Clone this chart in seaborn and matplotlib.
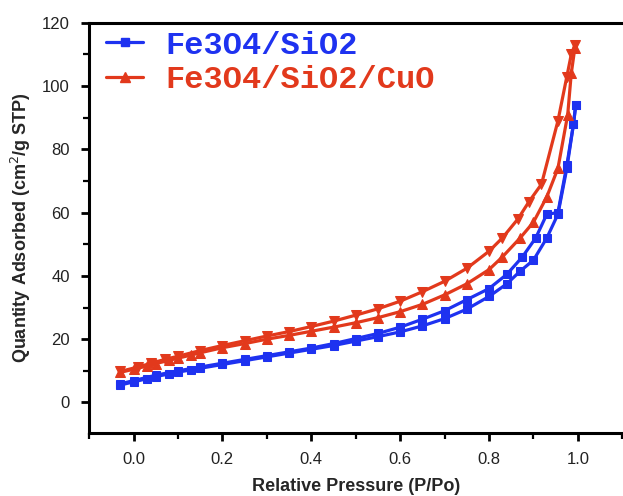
import numpy as np
import pandas as pd
import seaborn as sns
import matplotlib.pyplot as plt
from matplotlib.lines import Line2D
from matplotlib.ticker import MultipleLocator

# N2 adsorption / desorption isotherm values
blue_ads_p = [-0.03, 0.0, 0.03, 0.05, 0.08, 0.10, 0.13, 0.15, 0.20, 0.25, 0.30, 0.35,
              0.40, 0.45, 0.50, 0.55, 0.60, 0.65, 0.70, 0.75, 0.80, 0.84, 0.87, 0.90,
              0.93, 0.955, 0.975, 0.99, 0.995]
blue_ads_q = [5.5, 6.5, 7.5, 8.2, 9.0, 9.6, 10.3, 10.8, 12.0, 13.2, 14.4, 15.6,
              16.8, 18.0, 19.4, 20.8, 22.3, 24.2, 26.5, 29.5, 33.5, 37.5, 41.5, 45.0,
              52.0, 59.5, 74.0, 88.0, 94.0]
blue_des_p = [0.995, 0.99, 0.975, 0.955, 0.93, 0.905, 0.875, 0.84, 0.80, 0.75, 0.70,
              0.65, 0.60, 0.55, 0.50, 0.45, 0.40, 0.35, 0.30, 0.25, 0.20, 0.15,
              0.10, 0.05, 0.0, -0.03]
blue_des_q = [94.0, 88.0, 75.0, 60.0, 59.5, 52.0, 46.0, 40.5, 36.0, 32.5, 29.0,
              26.3, 23.8, 21.8, 20.2, 18.6, 17.2, 16.0, 14.8, 13.6, 12.4, 11.2,
              10.0, 8.6, 6.9, 5.9]

red_ads_p = [-0.03, 0.0, 0.03, 0.05, 0.08, 0.10, 0.13, 0.15, 0.20, 0.25, 0.30, 0.35,
             0.40, 0.45, 0.50, 0.55, 0.60, 0.65, 0.70, 0.75, 0.80, 0.83, 0.87, 0.90,
             0.93, 0.955, 0.977, 0.985, 0.993]
red_ads_q = [9.5, 10.5, 11.5, 12.3, 13.3, 14.0, 15.0, 15.7, 17.3, 18.6, 20.0, 21.2,
             22.5, 23.8, 25.2, 26.8, 28.7, 31.0, 34.0, 37.5, 42.0, 46.0, 52.0, 57.0,
             65.0, 74.0, 91.0, 104.0, 112.0]
red_des_p = [0.993, 0.985, 0.975, 0.955, 0.918, 0.89, 0.865, 0.83, 0.80, 0.75, 0.70,
             0.65, 0.60, 0.55, 0.50, 0.45, 0.40, 0.35, 0.30, 0.25, 0.20, 0.15,
             0.10, 0.07, 0.04, 0.01, -0.03]
red_des_q = [113.0, 110.0, 103.0, 89.0, 69.0, 63.5, 58.0, 52.0, 47.8, 42.4, 38.3,
             35.0, 32.0, 29.6, 27.6, 25.7, 24.0, 22.4, 21.0, 19.5, 18.0, 16.4,
             14.6, 13.6, 12.4, 11.2, 9.8]

labels = ["Fe3O4/SiO2", "Fe3O4/SiO2/CuO"]
colors = ["#1e32f0", "#e2391c"]

sns.set_style("ticks")
plt.rcParams["font.family"] = ["Liberation Sans", "DejaVu Sans"]

fig = plt.figure(figsize=(6.23, 4.96), dpi=100)
ax = fig.add_axes([0.143, 0.128, 0.856, 0.826])

branches = [
    (blue_ads_p, blue_ads_q, colors[0], "s", 6),
    (blue_des_p, blue_des_q, colors[0], "s", 6),
    (red_ads_p, red_ads_q, colors[1], "^", 7),
    (red_des_p, red_des_q, colors[1], "v", 7),
]
for p, q, c, m, ms in branches:
    df = pd.DataFrame({"p": p, "q": q})
    sns.lineplot(data=df, x="p", y="q", sort=False, estimator=None, ax=ax,
                 color=c, marker=m, markersize=ms, markeredgecolor=c,
                 linewidth=2.3, legend=False)

ax.set_xlim(-0.1, 1.1)
ax.set_ylim(-9.5, 120)
ax.xaxis.set_major_locator(MultipleLocator(0.2))
ax.xaxis.set_minor_locator(MultipleLocator(0.1))
ax.yaxis.set_major_locator(MultipleLocator(20))
ax.yaxis.set_minor_locator(MultipleLocator(10))
ax.set_xticks(np.arange(0, 1.01, 0.2))
ax.set_xticklabels(["0.0", "0.2", "0.4", "0.6", "0.8", "1.0"])

for side in ["left", "bottom", "top"]:
    ax.spines[side].set_linewidth(2.2)
    ax.spines[side].set_color("black")
ax.spines["right"].set_visible(False)
ax.tick_params(which="major", direction="out", length=6, width=2, labelsize=12,
               colors="black", labelcolor="#222222", pad=8)
ax.tick_params(which="minor", direction="out", length=4, width=1.6, colors="black")

ax.set_xlabel("Relative Pressure (P/Po)", fontsize=13, fontweight="bold", labelpad=8)
ax.set_ylabel("Quantity Adsorbed (cm$^2$/g STP)", fontsize=13, fontweight="bold",
              labelpad=6)

handles = [
    Line2D([], [], color=colors[0], marker="s", markersize=6, linewidth=2.3),
    Line2D([], [], color=colors[1], marker="^", markersize=7, linewidth=2.3),
]
leg = ax.legend(handles, labels, loc="upper left", bbox_to_anchor=(0.008, 1.012),
                frameon=False, handlelength=1.15, handletextpad=0.7,
                labelspacing=0.15, borderaxespad=0.0,
                prop={"family": "Liberation Mono", "weight": "bold", "size": 23})
for txt, c in zip(leg.get_texts(), colors):
    txt.set_color(c)

fig.savefig("out.png", dpi=100)
